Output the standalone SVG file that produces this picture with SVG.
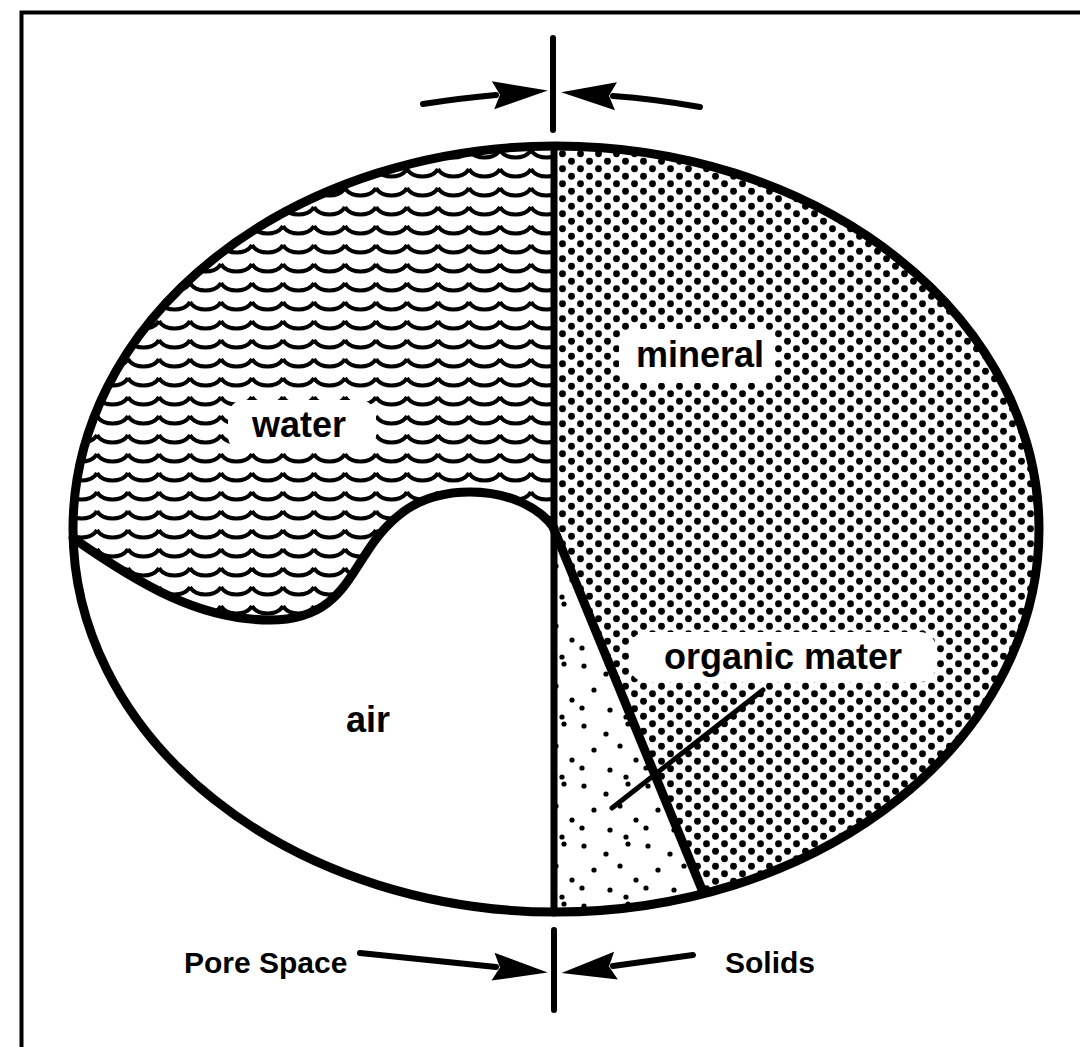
<svg xmlns="http://www.w3.org/2000/svg" width="1080" height="1047" viewBox="0 0 1080 1047">
<defs>
<style>
.lbl{font-family:"Liberation Sans",Arial,Helvetica,sans-serif;font-weight:bold;font-size:36px;fill:#000}
.bot{font-size:30px}
.ln{stroke:#000;fill:none;stroke-linecap:round;stroke-linejoin:round}
.box{fill:#fff}
</style>
<clipPath id="ell"><ellipse cx="556" cy="529" rx="483" ry="383"/></clipPath>
<pattern id="waves" patternUnits="userSpaceOnUse" x="4" y="146" width="31" height="19">
<path d="M0,4 C6,14 25,14 31,4" fill="none" stroke="#000" stroke-width="4"/>
</pattern>
<pattern id="dots" patternUnits="userSpaceOnUse" width="18" height="15">
<circle cx="4.5" cy="3.75" r="3.4"/><circle cx="13.5" cy="11.25" r="3.4"/>
</pattern>
<pattern id="sparse" patternUnits="userSpaceOnUse" width="64" height="60">
<circle cx="8" cy="6" r="2.6"/><circle cx="30" cy="14" r="2.6"/><circle cx="52" cy="4" r="2.6"/>
<circle cx="18" cy="30" r="2.6"/><circle cx="44" cy="26" r="2.6"/><circle cx="60" cy="40" r="2.6"/>
<circle cx="6" cy="48" r="2.6"/><circle cx="34" cy="50" r="2.6"/><circle cx="50" cy="57" r="2.6"/>
</pattern>
<marker id="ah" markerUnits="userSpaceOnUse" markerWidth="60" markerHeight="32" refX="3" refY="16" orient="auto" overflow="visible">
<path d="M0,2 L55,16 L0,30 L7,16 Z" fill="#000"/>
</marker>
</defs>
<rect width="1080" height="1047" fill="#fff"/>
<path d="M21.5,1047 V12.5 H1080" fill="none" stroke="#000" stroke-width="4"/>

<g clip-path="url(#ell)">
<g id="water"><path d="M554,140 L554,528 C540,508 510,492 470,492 C420,492 390,515 365,555 C345,585 330,620 270,620 C200,620 140,585 73,538 L60,538 L60,140 Z" fill="url(#waves)"/></g>
<g id="mineral"><path d="M554,140 L554,528 L710,912 L1050,912 L1050,140 Z" fill="url(#dots)"/></g>
<g id="organic"><path d="M554,528 L710,912 L554,912 Z" fill="url(#sparse)"/></g>
</g>

<rect class="box" x="228" y="400" width="148" height="52" rx="16"/>
<rect class="box" x="619" y="329" width="156" height="54" rx="16"/>
<rect class="box" x="630" y="632" width="306" height="50" rx="16"/>

<g id="outline">
<ellipse cx="556" cy="529" rx="483" ry="383" fill="none" stroke="#000" stroke-width="9"/>
<path class="ln" d="M554,146 V913" stroke-width="7"/>
<path class="ln" d="M553,527 L703,892" stroke-width="9"/>
<path class="ln" d="M73,538 C140,585 200,620 270,620 C330,620 345,585 365,555 C390,515 420,492 470,492 C510,492 540,508 554,528" stroke-width="9"/>
</g>

<g id="connectors">
<path class="ln" d="M553,38 V130" stroke-width="6"/>
<path class="ln" d="M554,930 V1010" stroke-width="6"/>
<path class="ln" d="M423,104 Q462,98 496,95" stroke-width="6" marker-end="url(#ah)"/>
<path class="ln" d="M700,107 Q655,99 613,96" stroke-width="6" marker-end="url(#ah)"/>
<path class="ln" d="M360,953 Q440,961 496,967" stroke-width="6" marker-end="url(#ah)"/>
<path class="ln" d="M693,955 Q650,961 613,966" stroke-width="6" marker-end="url(#ah)"/>
<path class="ln" d="M763,690 L612,808" stroke-width="5"/>
</g>

<g id="labels">
<text class="lbl" x="252" y="437">water</text>
<text class="lbl" x="636" y="367">mineral</text>
<text class="lbl" x="664" y="669">organic mater</text>
<text class="lbl" x="346" y="732">air</text>
<text class="lbl bot" x="184" y="973">Pore Space</text>
<text class="lbl bot" x="725" y="973">Solids</text>
</g>
</svg>
